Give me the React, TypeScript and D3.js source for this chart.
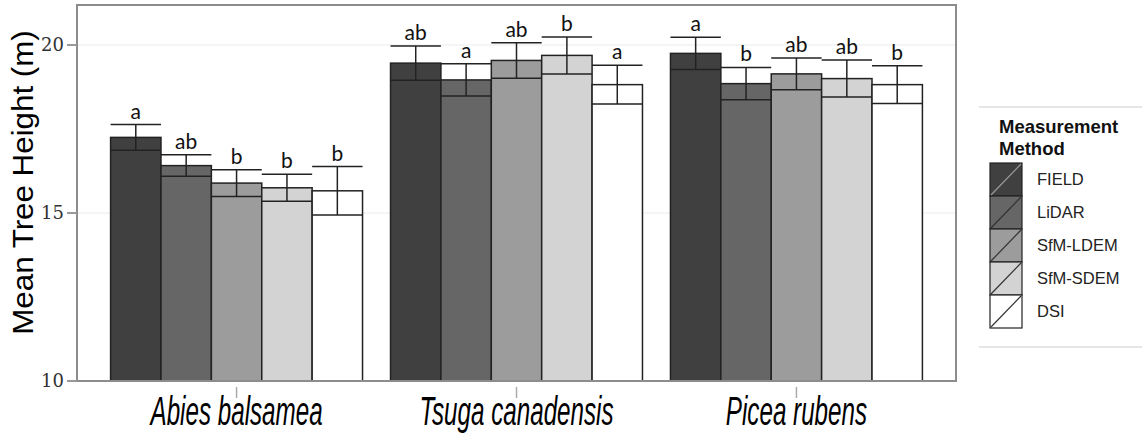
import React from 'react';
import { scaleBand, scaleLinear } from 'd3';

const species = ['Abies balsamea', 'Tsuga canadensis', 'Picea rubens'];
const methods = ['FIELD', 'LiDAR', 'SfM-LDEM', 'SfM-SDEM', 'DSI'];
const methodFills = ['#404040', '#666666', '#9c9c9c', '#d3d3d3', '#ffffff'];

// mean height per method, one array per species
const abiesMean = [17.25, 16.41, 15.89, 15.75, 15.66];
const tsugaMean = [19.46, 18.96, 19.54, 19.69, 18.82];
const piceaMean = [19.75, 18.85, 19.14, 19.0, 18.82];

// standard errors
const abiesSE = [0.38, 0.32, 0.4, 0.4, 0.72];
const tsugaSE = [0.51, 0.48, 0.53, 0.55, 0.58];
const piceaSE = [0.48, 0.48, 0.47, 0.55, 0.56];

// significance letters
const abiesLetters = ['a', 'ab', 'b', 'b', 'b'];
const tsugaLetters = ['ab', 'a', 'ab', 'b', 'a'];
const piceaLetters = ['a', 'b', 'ab', 'ab', 'b'];

const yTicks = [10, 15, 20];

const means = [abiesMean, tsugaMean, piceaMean];
const ses = [abiesSE, tsugaSE, piceaSE];
const letters = [abiesLetters, tsugaLetters, piceaLetters];

const W = 1142;
const H = 438;
const panel = { left: 77, right: 956, top: 5, bottom: 381 };

const App: React.FC = () => {
  const x = scaleBand<string>()
    .domain(species)
    .range([panel.left, panel.right])
    .paddingInner(0.1)
    .paddingOuter(0.12);

  const xInner = scaleBand<string>()
    .domain(methods)
    .range([0, x.bandwidth()]);

  const y = scaleLinear().domain([10, 21.19]).range([panel.bottom, panel.top]);

  const bw = xInner.bandwidth();

  return (
    <svg
      width={W}
      height={H}
      style={{ position: 'absolute', left: 0, top: 0, background: '#fff' }}
    >
      {/* faint grid */}
      {yTicks.slice(1).map(t => (
        <line key={t} x1={panel.left} x2={panel.right} y1={y(t)} y2={y(t)} stroke="#f2f2f2" strokeWidth={1.5} />
      ))}

      {/* bars */}
      {species.map((sp, si) => (
        <g key={sp} transform={`translate(${x(sp)},0)`}>
          {methods.map((m, mi) => {
            const v = means[si][mi];
            const se = ses[si][mi];
            const x0 = xInner(m)!;
            const cx = x0 + bw / 2;
            return (
              <g key={m}>
                <rect
                  x={x0}
                  y={y(v)}
                  width={bw}
                  height={y(10) - y(v)}
                  fill={methodFills[mi]}
                  stroke="#222"
                  strokeWidth={1.5}
                />
                <line x1={cx} x2={cx} y1={y(v - se)} y2={y(v + se)} stroke="#222" strokeWidth={1.5} />
                <line x1={x0} x2={x0 + bw} y1={y(v - se)} y2={y(v - se)} stroke="#222" strokeWidth={1.5} />
                <line x1={x0} x2={x0 + bw} y1={y(v + se)} y2={y(v + se)} stroke="#222" strokeWidth={1.5} />
                <text
                  x={cx}
                  y={y(v + se) - 6}
                  textAnchor="middle"
                  fontFamily="Lato, 'Open Sans', sans-serif"
                  fontSize={21}
                  fill="#111"
                >
                  {letters[si][mi]}
                </text>
              </g>
            );
          })}
        </g>
      ))}

      {/* panel border */}
      <rect
        x={panel.left}
        y={panel.top}
        width={panel.right - panel.left}
        height={panel.bottom - panel.top}
        fill="none"
        stroke="#8c8c8c"
        strokeWidth={2}
      />

      {/* y axis */}
      {yTicks.map(t => (
        <g key={t}>
          <line x1={67} x2={panel.left} y1={y(t)} y2={y(t)} stroke="#999" strokeWidth={2} />
          <text
            x={64}
            y={y(t)}
            dy="0.36em"
            textAnchor="end"
            fontFamily="'DejaVu Serif', serif"
            fontSize={18}
            fill="#333"
          >
            {t}
          </text>
        </g>
      ))}
      <text
        transform={`translate(33,${(25 + 340) / 2}) rotate(-90) scale(1.08,1)`}
        textAnchor="middle"
        fontFamily="'Liberation Sans', Arial, sans-serif"
        fontSize={29}
        fill="#000"
      >
        Mean Tree Height (m)
      </text>

      {/* x axis */}
      {species.map(sp => {
        const cx = x(sp)! + x.bandwidth() / 2;
        return (
          <g key={sp}>
            <line x1={cx} x2={cx} y1={387} y2={398} stroke="#aaa" strokeWidth={1.5} />
            <text
              transform={`translate(${cx},425) scale(0.59,1)`}
              textAnchor="middle"
              fontFamily="'Liberation Sans', Arial, sans-serif"
              fontStyle="italic"
              fontSize={41}
              fill="#000"
            >
              {sp}
            </text>
          </g>
        );
      })}

      {/* legend */}
      <line x1={979} x2={W} y1={107} y2={107} stroke="#e6e6e6" strokeWidth={2} />
      <line x1={979} x2={W} y1={347} y2={347} stroke="#e6e6e6" strokeWidth={2} />
      <text x={999} y={133} fontFamily="'Liberation Sans', Arial, sans-serif" fontWeight="bold" fontSize={18.5} fill="#111">
        Measurement
      </text>
      <text x={999} y={155} fontFamily="'Liberation Sans', Arial, sans-serif" fontWeight="bold" fontSize={18.5} fill="#111">
        Method
      </text>
      {methods.map((m, i) => {
        const ky = 163 + i * 33;
        return (
          <g key={m}>
            <rect x={990} y={ky} width={32} height={33} fill={methodFills[i]} stroke="#222" strokeWidth={1.2} />
            <line
              x1={991}
              y1={ky + 32}
              x2={1021}
              y2={ky + 1}
              stroke={i === 0 ? '#999' : '#333'}
              strokeWidth={1.2}
            />
            <text
              x={1037}
              y={ky + 16.5}
              dy="0.35em"
              fontFamily="'Liberation Sans', Arial, sans-serif"
              fontSize={16.5}
              fill="#222"
            >
              {m}
            </text>
          </g>
        );
      })}
    </svg>
  );
};

export default App;
